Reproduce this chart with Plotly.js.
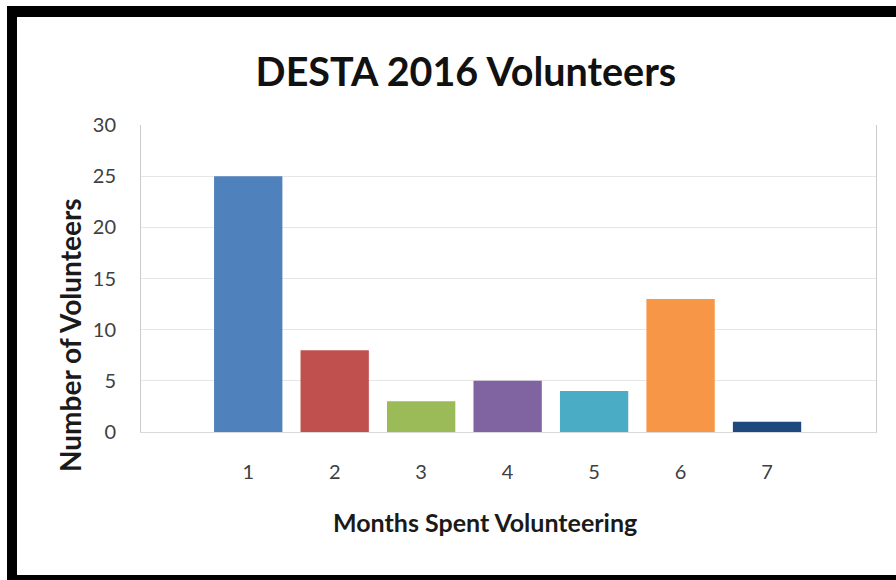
<!DOCTYPE html>
<html>
<head>
<meta charset="utf-8">
<script src="https://cdn.plot.ly/plotly-3.0.1.min.js"></script>
<style>
  html, body { margin: 0; padding: 0; background: #ffffff; }
  #wrap { position: relative; width: 896px; height: 580px; overflow: hidden; }
  #chart { width: 896px; height: 580px; }
  #frame {
    position: absolute; left: 7px; top: 6px; width: 940px; height: 558px;
    border-top: 11px solid #000; border-left: 10px solid #000; border-bottom: 6px solid #000;
    pointer-events: none;
  }
</style>
</head>
<body>
<div id="wrap">
  <div id="chart"></div>
  <div id="frame"></div>
</div>
<script>
const months = [1, 2, 3, 4, 5, 6, 7];
const monthLabels = ["1", "2", "3", "4", "5", "6", "7"];
const volunteers = [25, 8, 3, 5, 4, 13, 1];
const barColors = ["#4F81BD", "#C0504D", "#9BBB59", "#8064A2", "#4BACC6", "#F79646", "#1F497D"];
const yTicks = [0, 5, 10, 15, 20, 25, 30];

const trace = {
  type: "bar",
  x: months,
  y: volunteers,
  width: 0.79,
  marker: { color: barColors, line: { width: 0 } },
  hoverinfo: "x+y",
  showlegend: false
};

const font = "Lato, 'Open Sans', 'DejaVu Sans', sans-serif";

const layout = {
  width: 896,
  height: 580,
  paper_bgcolor: "#ffffff",
  plot_bgcolor: "#ffffff",
  margin: { l: 141, r: 20, t: 125, b: 148 },
  font: { family: font, color: "#404040" },
  title: {
    text: "DESTA 2016 Volunteers",
    font: { family: font, size: 39.5, color: "#111111", weight: "bold" },
    xref: "container", yref: "container",
    x: 0.52, y: 0.876, xanchor: "center", yanchor: "middle"
  },
  xaxis: {
    type: "linear",
    range: [-0.24, 8.26],
    tickvals: months,
    ticktext: monthLabels,
    tickfont: { size: 20, color: "#404040" },
    ticks: "",
    ticklabelstandoff: 22,
    showgrid: false,
    zeroline: false,
    showline: true,
    linecolor: "#d9d9d9",
    linewidth: 1,
    fixedrange: true
  },
  yaxis: {
    range: [0, 30],
    tickvals: yTicks,
    tickfont: { size: 20, color: "#404040" },
    ticks: "",
    ticklabelstandoff: 20,
    showgrid: true,
    gridcolor: "#e6e6e6",
    gridwidth: 1,
    zeroline: false,
    showline: true,
    mirror: true,
    linecolor: "#cccccc",
    linewidth: 1,
    fixedrange: true
  },
  annotations: [
    {
      text: "Months Spent Volunteering",
      xref: "paper", yref: "paper",
      x: (485 - 141) / 735, y: -(522 - 432) / 307,
      xanchor: "center", yanchor: "middle",
      showarrow: false,
      font: { family: font, size: 25, color: "#1a1a1a", weight: "bold" }
    },
    {
      text: "Number of Volunteers",
      xref: "paper", yref: "paper",
      x: -(141 - 70) / 735, y: (432 - 335) / 307,
      xanchor: "center", yanchor: "middle",
      textangle: -90,
      showarrow: false,
      font: { family: font, size: 28, color: "#1a1a1a", weight: "bold" }
    }
  ]
};

Plotly.newPlot("chart", [trace], layout, { displayModeBar: false, staticPlot: true });
</script>
</body>
</html>
